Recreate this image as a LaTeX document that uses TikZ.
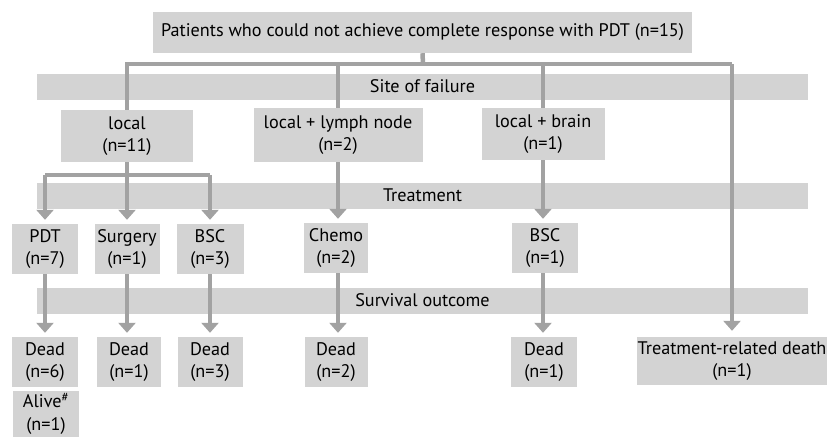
\documentclass[tikz,border=0pt]{standalone}
\usepackage{fontspec}
\setmainfont{PT Sans}
\usetikzlibrary{positioning,arrows.meta,backgrounds}
\definecolor{boxgray}{HTML}{D3D3D3}
\definecolor{linkgray}{HTML}{A2A2A2}
\tikzset{
  box/.style={
    fill=boxgray, align=center, inner sep=0pt,
    minimum height=50pt, minimum width=66pt,
    font=\fontsize{18.2}{22.5}\selectfont
  },
  band/.style={
    fill=boxgray, inner sep=0pt,
    minimum height=26pt, minimum width=771pt,
    font=\fontsize{18.2}{22.5}\selectfont
  },
  link/.style={draw=linkgray, line width=4.5pt},
  arrow/.style={link, -{Triangle[length=10pt,width=17pt]}, shorten >=4pt}
}

\begin{document}
\begin{tikzpicture}[x=1pt, y=-1pt]
  \useasboundingbox (0,0) rectangle (827,437);

  % top
  \node[box, minimum width=539pt, minimum height=41pt] (start) at (422.5,32.5)
    {Patients who could not achieve complete response with PDT (n=15)};

  % site of failure
  \node[box, minimum width=132pt, minimum height=52pt] (local) at (127,136) {local\\(n=11)};
  \node[box, minimum width=169pt, minimum height=54pt] (lymph) at (338,135) {local + lymph node\\(n=2)};
  \node[box, minimum width=123pt, minimum height=52pt] (brain) at (543,134) {local + brain\\(n=1)};

  % treatment
  \node[box] (pdt) at (45,249) {PDT\\(n=7)};
  \node[box, minimum width=65pt] (surgery) at (127,249) {Surgery\\(n=1)};
  \node[box, minimum width=67pt] (bsc) at (210,249) {BSC\\(n=3)};
  \node[box, minimum width=64pt] (chemo) at (336,248) {Chemo\\(n=2)};
  \node[box] (bscb) at (545,248) {BSC\\(n=1)};

  % survival outcome
  \node[box] (deadpdt) at (45,362) {Dead\\(n=6)};
  \node[box, minimum width=64pt] (deadsurg) at (129,362) {Dead\\(n=1)};
  \node[box, minimum width=65pt] (deadbsc) at (210,362) {Dead\\(n=3)};
  \node[box, minimum width=63pt] (deadchemo) at (336,362) {Dead\\(n=2)};
  \node[box] (deadbscb) at (544,362) {Dead\\(n=1)};
  \node[box, minimum width=190pt, minimum height=48pt] (trd) at (732,361) {Treatment-related death\\(n=1)};
  \node[box, minimum height=46pt] (alive) at (46,414) {Alive\textsuperscript{\#}\\(n=1)};

  \begin{scope}[on background layer]
    \node[band] (site) at (422.5,86.5) {Site of failure};
    \node[band] (treat) at (422.5,195.5) {Treatment};
    \node[band] (surv) at (422.5,300.5) {Survival outcome};

    \coordinate (split) at (423,64);
    \coordinate (lsplit) at (127,175);

    % first split
    \draw[link] (start.south) -- (split);
    \draw[link] (local.north) -- (local.north |- split) -- (trd.north |- split);
    \draw[link] (lymph.north) -- (lymph.north |- split);
    \draw[link] (brain.north) -- (brain.north |- split);
    \draw[arrow, shorten >=6pt] (trd.north |- split) -- (trd.north);

    % split of local
    \draw[link] (local.south) -- (lsplit);
    \draw[link] (pdt.north |- lsplit) -- (bsc.north |- lsplit);
    \draw[arrow] (pdt.north |- lsplit) -- (pdt.north);
    \draw[arrow] (lsplit) -- (surgery.north);
    \draw[arrow] (bsc.north |- lsplit) -- (bsc.north);
    \draw[arrow] (lymph.south) -- (lymph.south |- chemo.north);
    \draw[arrow] (brain.south) -- (brain.south |- bscb.north);

    % to outcome
    \draw[arrow] (pdt.south) -- (deadpdt.north);
    \draw[arrow] (surgery.south) -- (surgery.south |- deadsurg.north);
    \draw[arrow] (bsc.south) -- (deadbsc.north);
    \draw[arrow] (lymph.south |- chemo.south) -- (lymph.south |- deadchemo.north);
    \draw[arrow] (brain.south |- bscb.south) -- (brain.south |- deadbscb.north);
  \end{scope}
\end{tikzpicture}
\end{document}
